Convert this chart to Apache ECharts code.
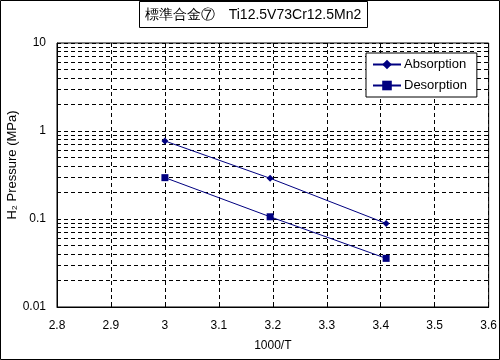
<!DOCTYPE html>
<html>
<head>
<meta charset="utf-8">
<script src="https://cdn.jsdelivr.net/npm/echarts@6/dist/echarts.min.js"></script>
<style>html,body{margin:0;padding:0;background:#fff}#c{width:500px;height:360px}</style>
</head>
<body>
<div id="c"></div>
<script>
const titleText = '標準合金⑦　Ti12.5V73Cr12.5Mn2';
const seriesNames = ['Absorption', 'Desorption'];
const invT = [3.0, 3.195, 3.41];
const absorption = [0.77, 0.29, 0.089];
const desorption = [0.295, 0.106, 0.0357];
const xTicks = {min: 2.8, max: 3.6, interval: 0.1};
const yRange = {min: 0.01, max: 10};
const minorGrid = [0.02,0.03,0.04,0.05,0.06,0.07,0.08,0.09,0.2,0.3,0.4,0.5,0.6,0.7,0.8,0.9,2,3,4,5,6,7,8,9];

const FONT = 'Liberation Sans, Arial, sans-serif';
const NAVY = '#000080';
const chart = echarts.init(document.getElementById('c'), null, {renderer: 'canvas'});
chart.setOption({
  animation: false,
  backgroundColor: '#fff',
  textStyle: {fontFamily: FONT, color: '#000'},
  grid: {left: 57, top: 43, right: 11, bottom: 53, show: true, borderColor: '#000', borderWidth: 1},
  graphic: [
    {type: 'rect', shape: {x: 0.5, y: 0.5, width: 499, height: 359}, style: {fill: 'none', stroke: '#000', lineWidth: 1}, z: 100},
    {type: 'rect', shape: {x: 139.5, y: 1.5, width: 228, height: 26}, style: {fill: '#fff', stroke: '#000', lineWidth: 1}, z: 100},
    {type: 'text', x: 253, y: 15, style: {text: titleText, font: '14px ' + FONT, fill: '#000', align: 'center', verticalAlign: 'middle'}, z: 101},
    {type: 'text', x: 12, y: 165, rotation: Math.PI / 2, style: {text: 'H₂ Pressure (MPa)', font: '13px ' + FONT, fill: '#000', align: 'center', verticalAlign: 'middle'}, z: 101}
  ],
  legend: {
    left: 366, top: 53, orient: 'vertical',
    backgroundColor: '#fff', borderColor: '#000', borderWidth: 1, borderRadius: 0,
    padding: [5, 10, 5, 6], itemGap: 8, itemWidth: 28, itemHeight: 12,
    textStyle: {fontFamily: FONT, fontSize: 13, color: '#000', padding: [0, 0, 0, -2]},
    data: seriesNames
  },
  xAxis: {
    type: 'value', min: xTicks.min, max: xTicks.max, interval: xTicks.interval,
    name: '1000/T', nameLocation: 'middle', nameGap: 33,
    nameTextStyle: {fontFamily: FONT, fontSize: 12, color: '#000'},
    axisLine: {show: true, lineStyle: {color: '#000', width: 1}},
    axisTick: {show: true, inside: true, length: 5, lineStyle: {color: '#000'}},
    axisLabel: {fontFamily: FONT, fontSize: 12, color: '#000', margin: 13,
      formatter: v => String(+v.toFixed(1))},
    splitLine: {show: true, lineStyle: {color: '#000', type: [4, 3], width: 1}}
  },
  yAxis: {
    type: 'log', logBase: 10, min: yRange.min, max: yRange.max,
    axisLine: {show: true, lineStyle: {color: '#000', width: 1}},
    axisTick: {show: false},
    axisLabel: {fontFamily: FONT, fontSize: 12, color: '#000', margin: 11,
      formatter: v => String(+v.toPrecision(2))},
    splitLine: {show: true, lineStyle: {color: '#000', type: [4, 3], width: 1}}
  },
  series: [
    {
      name: seriesNames[0], type: 'line', symbol: 'diamond', symbolSize: 7,
      data: invT.map((x, i) => [x, absorption[i]]),
      lineStyle: {color: NAVY, width: 1}, itemStyle: {color: NAVY},
      z: 5,
      markLine: {
        silent: true, symbol: 'none', animation: false,
        label: {show: false},
        lineStyle: {color: '#000', type: [4, 3], width: 1},
        data: minorGrid.map(v => ({yAxis: v})),
        z: 1
      }
    },
    {
      name: seriesNames[1], type: 'line', symbol: 'rect', symbolSize: 7,
      data: invT.map((x, i) => [x, desorption[i]]),
      lineStyle: {color: NAVY, width: 1}, itemStyle: {color: NAVY},
      z: 5
    }
  ]
});
</script>
</body>
</html>
